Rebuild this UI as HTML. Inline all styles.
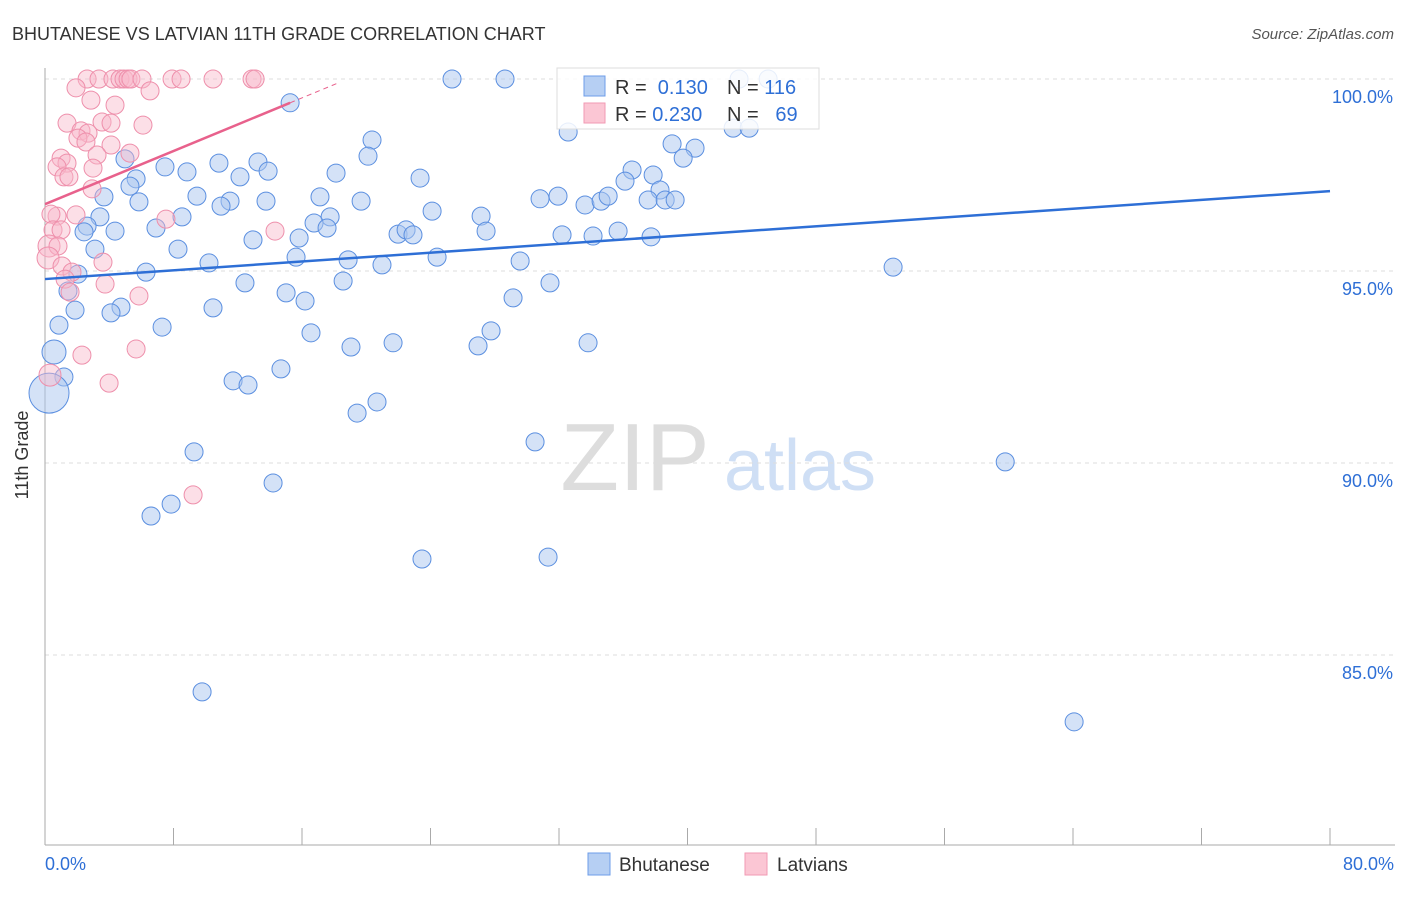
<!DOCTYPE html>
<html><head><meta charset="utf-8"><style>
body{margin:0;background:#fff;font-family:"Liberation Sans",sans-serif}
svg text{font-family:"Liberation Sans",sans-serif}
</style></head><body>
<svg id="c" width="1406" height="892" xmlns="http://www.w3.org/2000/svg">
<text x="12" y="40" font-size="18" fill="#333">BHUTANESE VS LATVIAN 11TH GRADE CORRELATION CHART</text>
<text x="1394" y="39" font-size="15" fill="#555" font-style="italic" text-anchor="end">Source: ZipAtlas.com</text>
<text x="28" y="455" font-size="18" fill="#333" text-anchor="middle" transform="rotate(-90 28 455)">11th Grade</text>
<g><text x="635" y="490" font-size="96" fill="#ddd" font-family="Liberation Serif" text-anchor="middle">ZIP</text><text x="800" y="490" font-size="72" fill="#cfdff5" text-anchor="middle">atlas</text></g>
<g id="grid"></g><g id="axes"></g><g id="pts"></g><g id="trend"></g>
<g>
<rect x="557" y="68" width="262" height="61" fill="#fff" fill-opacity="0.85" stroke="#ddd"/>
<rect x="584" y="76" width="21" height="20" fill="#b6cff3" stroke="#6d9ce8"/>
<rect x="584" y="103" width="21" height="20" fill="#fbc6d4" stroke="#f19ab3"/>
<text x="615" y="94" font-size="20" fill="#333">R = <tspan fill="#2e6fd6">&#160;0.130</tspan><tspan x="727">N = </tspan><tspan fill="#2e6fd6">116</tspan></text>
<text x="615" y="121" font-size="20" fill="#333">R = <tspan fill="#2e6fd6">0.230</tspan><tspan x="727">N = </tspan><tspan fill="#2e6fd6">&#160;&#160;69</tspan></text>
</g>
<g>
<rect x="588" y="853" width="22" height="22" fill="#b6cff3" stroke="#6d9ce8"/>
<text x="619" y="871" font-size="19" fill="#333">Bhutanese</text>
<rect x="745" y="853" width="22" height="22" fill="#fbc6d4" stroke="#f19ab3"/>
<text x="777" y="871" font-size="19" fill="#333">Latvians</text>
</g>
</svg>
<script>
const blueX=[25.34,28.64,15.26,43.21,45.02,32.57,42.84,43.84,20.36,39.04,40.47,39.73,20.11,4.98,7.47,10.83,13.26,8.84,12.14,13.89,18.12,23.35,36.55,37.86,36.11,5.67,5.29,9.46,17.12,3.67,5.85,11.52,10.96,13.76,19.68,30.82,31.94,33.62,34.62,35.06,38.29,37.55,38.61,39.23,24.10,27.15,3.42,8.53,17.75,16.75,27.46,2.62,2.43,4.36,6.91,17.56,21.98,22.48,22.91,32.19,34.12,35.68,37.73,12.95,15.82,3.11,8.28,18.87,15.63,24.41,10.21,20.98,29.58,52.80,6.29,2.05,12.45,31.44,18.56,1.43,15.01,16.19,29.14,10.46,4.73,4.11,1.87,0.87,7.29,16.56,27.77,0.56,19.05,21.67,26.96,33.81,14.69,1.18,11.71,12.64,0.25,20.67,19.43,30.51,9.28,59.78,14.20,7.85,6.60,23.47,31.32,9.78,64.07];
const blueY=[100,100,99.38,100,100,98.62,98.72,98.72,98.41,98.31,98.20,97.94,97.99,97.92,97.71,97.81,97.84,97.58,97.45,97.60,97.55,97.42,97.63,97.50,97.34,97.40,97.21,96.95,96.93,96.93,96.80,96.82,96.69,96.82,96.82,96.88,96.95,96.72,96.82,96.95,97.11,96.85,96.85,96.85,96.56,96.43,96.41,96.41,96.41,96.25,96.04,96.17,96.02,96.04,96.12,96.12,95.96,96.07,95.94,95.94,95.91,96.04,95.89,95.81,95.86,95.57,95.57,95.29,95.36,95.36,95.21,95.16,95.26,95.10,94.97,94.92,94.69,94.69,94.74,94.48,94.43,94.22,94.30,94.04,94.06,93.91,93.98,93.59,93.54,93.39,93.44,92.89,93.02,93.13,93.05,93.13,92.45,92.24,92.14,92.03,91.82,91.59,91.30,90.55,90.29,90.03,89.48,88.93,88.62,87.50,87.55,84.04,83.26];
const pinkX=[2.62,3.36,4.23,4.67,4.92,5.17,5.35,6.04,7.91,8.47,10.46,12.89,13.08,1.93,6.54,2.86,4.36,3.55,1.37,4.11,6.10,2.24,2.68,2.05,2.55,4.11,5.29,3.24,1.00,1.37,0.75,2.99,1.18,1.49,2.93,0.75,0.37,1.93,7.53,0.50,1.00,14.32,0.25,0.81,0.19,1.06,3.61,1.68,1.25,3.74,1.56,5.85,5.67,2.30,3.99,0.31,9.22];
const pinkY=[100,100,100,100,100,100,100,100,100,100,100,100,100,99.77,99.69,99.45,99.32,98.88,98.85,98.85,98.80,98.65,98.59,98.46,98.36,98.28,98.07,98.02,97.94,97.81,97.71,97.68,97.45,97.45,97.14,96.43,96.48,96.46,96.35,96.07,96.07,96.04,95.65,95.65,95.34,95.13,95.23,94.97,94.79,94.66,94.45,94.35,92.97,92.81,92.08,92.29,89.17];
const yTicks=[100,95,90,85];
const yTickLabels=["100.0%","95.0%","90.0%","85.0%"];
const xTicks=[0,8,16,24,32,40,48,56,64,72,80];
const blueTrend=[94.79,97.08]; // y at x=0 and x=80
const pinkTrend=[96.74,0.173]; // intercept, slope
const pinkSolidEnd=15.26, pinkDashEnd=18.3;
const X0=45,X1=1330,Y100=79,PX_PER=38.4;
const sx=v=>X0+(v/80)*(X1-X0);
const sy=v=>Y100+(100-v)*PX_PER;
const NS="http://www.w3.org/2000/svg";
function mk(tag,parent,attrs){const e=document.createElementNS(NS,tag);for(const k in attrs)e.setAttribute(k,attrs[k]);document.getElementById(parent).appendChild(e);return e;}
yTicks.forEach((t,i)=>{
 const l=mk('line','grid',{x1:X0,x2:1395,y1:sy(t),y2:sy(t),stroke:'#ddd','stroke-dasharray':'4 4'});
 
 
 const tx=mk('text','grid',{x:1393,y:sy(t)+24,'font-size':18,fill:'#2e6fd6','text-anchor':'end'});
 tx.textContent=yTickLabels[i];
 
 
});
const ya=mk('line','axes',{x1:X0,x2:X0,y1:68,y2:845,stroke:'#aaa'});


const xa=mk('line','axes',{x1:X0,x2:1395,y1:845,y2:845,stroke:'#aaa'});


xTicks.forEach(t=>{
 const l=mk('line','axes',{x1:sx(t),x2:sx(t),y1:828,y2:845,stroke:'#aaa'});
 
 
});
const xl0=mk('text','axes',{x:45,y:870,'font-size':18,fill:'#2e6fd6'});xl0.textContent=xTicks[0].toFixed(1)+'%';


const xl1=mk('text','axes',{x:1394,y:870,'font-size':18,fill:'#2e6fd6','text-anchor':'end'});xl1.textContent=xTicks[xTicks.length-1].toFixed(1)+'%';


blueX.forEach((x,i)=>{
 const c=mk('circle','pts',{cx:sx(x),cy:sy(blueY[i]),r:(x<0.5?20:(x<0.7?12:9)),fill:'#a9c6f0','fill-opacity':0.5,stroke:'#5b8fe0','stroke-width':1});
 
 
});
pinkX.forEach((x,i)=>{
 const c=mk('circle','pts',{cx:sx(x),cy:sy(pinkY[i]),r:(x<0.35?11:9),fill:'#f8b9ca','fill-opacity':0.45,stroke:'#ee8fab','stroke-width':1});
 
 
});
const bt=mk('line','trend',{x1:sx(0),y1:sy(blueTrend[0]),x2:sx(80),y2:sy(blueTrend[1]),stroke:'#2e6fd6','stroke-width':2.5});


const pt=mk('line','trend',{x1:sx(0),y1:sy(pinkTrend[0]),x2:sx(pinkSolidEnd),y2:sy(pinkTrend[0]+pinkTrend[1]*pinkSolidEnd),stroke:'#e8618c','stroke-width':2.5});


const pd=mk('line','trend',{x1:sx(pinkSolidEnd),y1:sy(pinkTrend[0]+pinkTrend[1]*pinkSolidEnd),x2:sx(pinkDashEnd),y2:sy(pinkTrend[0]+pinkTrend[1]*pinkDashEnd),stroke:'#e8618c','stroke-width':1,'stroke-dasharray':'5 4'});


</script>
</body></html>
